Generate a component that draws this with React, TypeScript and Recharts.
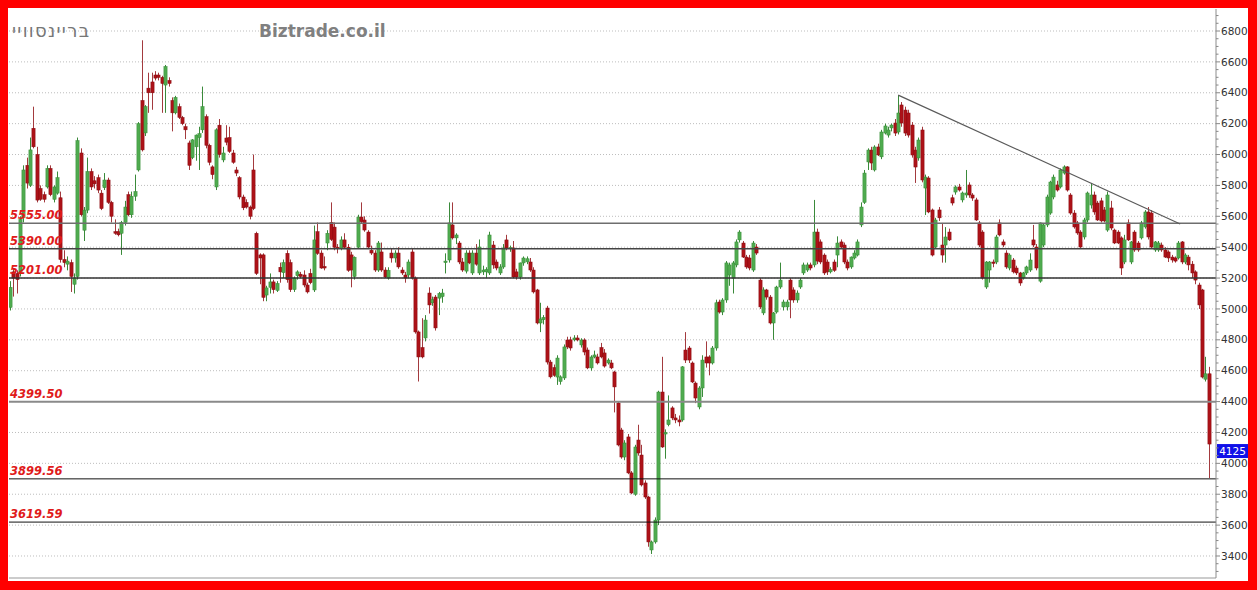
import React from 'react';
import { ComposedChart, Bar, XAxis, YAxis, ReferenceLine, CartesianGrid } from 'recharts';

type C = [number, number, number, number]; // open, high, low, close

const candlesA: C[] = [
  [5010,5180,4990,5140],[5240,5260,5080,5200],[5230,5250,5100,5190],[5230,5600,5210,5580],[5590,5930,5560,5900],
  [5930,5980,5780,5815],[5800,6110,5790,6030],[6170,6310,6040,6050],[6000,6050,5690,5705],[5780,5800,5700,5710],
  [5740,5760,5690,5710],[5790,5930,5780,5910],[5910,5930,5730,5740],[5710,5800,5690,5790],[5750,5890,5740,5850],
  [5720,5760,5300,5320],[5320,5380,5270,5300],[5290,5340,5250,5310],[5300,5320,5110,5210],[5160,5230,5100,5200],
  [5210,6110,5190,6090],[6010,6040,5600,5610],[5510,5660,5440,5640],[5640,5980,5620,5890],[5890,5910,5770,5790],
  [5830,5860,5780,5810],[5850,5870,5750,5770],[5750,5770,5640,5650],[5785,5880,5770,5835],[5835,5850,5680,5690],
  [5690,5700,5560,5600],[5500,5580,5480,5490],[5500,5520,5470,5480],[5490,5570,5350,5560],[5560,5700,5540,5660],
  [5740,5760,5600,5610],[5610,5760,5590,5730],[5730,5870,5700,5760],[5900,6210,5890,6200],[6350,6740,6020,6030],
  [6140,6320,6120,6310],[6430,6530,6270,6400],[6470,6530,6290,6400],[6515,6540,6480,6495],[6515,6530,6480,6500],
  [6500,6510,6270,6460],[6450,6580,6270,6570],[6480,6500,6440,6460],[6350,6370,6150,6270],[6270,6380,6260,6370],
  [6310,6330,6230,6240],[6240,6250,6190,6200],[6180,6200,6100,6160],[6075,6090,5900,5930],[5980,6100,5970,6095],
  [6050,6130,5960,6126],[6110,6180,5900,6135],[6160,6440,6140,6310],[6245,6260,6040,6060],[6060,6070,5930,5950],
];
const candlesB: C[] = [
  [5920,5930,5840,5870],[5790,6170,5770,6160],[6190,6230,5980,6000],[5965,6050,5950,6010],[6107,6190,6060,6080],
  [6110,6180,6010,6020],[6010,6030,5940,5950],[5900,5920,5860,5880],[5850,5860,5710,5725],[5725,5740,5640,5655],
  [5690,5710,5650,5660],[5660,5670,5580,5600],[5900,6000,5640,5650],[5490,5500,5220,5230],[5350,5360,5160,5330],
  [5350,5360,5050,5075],[5090,5150,5050,5136],[5140,5230,5100,5175],[5175,5190,5100,5125],[5120,5180,5110,5165],
  [5270,5300,5170,5240],[5235,5320,5200,5300],[5360,5380,5170,5190],[5300,5320,5110,5125],[5125,5210,5110,5200],
  [5215,5250,5190,5240],[5225,5240,5200,5210],[5220,5250,5140,5155],[5155,5170,5100,5110],[5230,5260,5160,5170],
  [5123,5540,5110,5447],[5500,5560,5350,5360],[5362,5380,5260,5265],[5275,5340,5250,5265],[5427,5510,5380,5490],
  [5560,5690,5440,5450],[5530,5560,5380,5400],[5400,5420,5360,5390],[5395,5470,5380,5447],[5447,5490,5390,5400],
  [5400,5420,5240,5250],[5350,5370,5140,5252],[5210,5340,5190,5335],[5400,5610,5390,5595],[5595,5690,5550,5565],
  [5576,5600,5500,5511],[5498,5510,5390,5401],[5380,5410,5350,5362],[5362,5380,5240,5252],[5252,5440,5240,5427],
  [5369,5430,5240,5252],[5252,5270,5200,5207],[5200,5270,5190,5250],[5362,5390,5300,5330],[5330,5380,5300,5362],
  [5362,5400,5260,5272],[5252,5270,5220,5233],[5220,5240,5170,5200],[5220,5320,5200,5304],[5369,5395,5190,5200],
];
const candlesC: C[] = [
  [5200,5210,4840,4851],[4851,4860,4530,4689],[4750,4940,4680,4689],[4812,4960,4790,4928],[5103,5140,4970,5026],
  [5040,5080,5020,5060],[5077,5090,4860,4877],[5070,5110,4960,5100],[5080,5130,5040,5103],[5300,5360,5230,5310],
  [5317,5690,5300,5557],[5544,5690,5450,5460],[5460,5490,5420,5479],[5427,5440,5290,5304],[5304,5330,5240,5252],
  [5245,5380,5230,5362],[5362,5380,5290,5298],[5233,5380,5220,5362],[5362,5420,5280,5290],[5233,5450,5220,5401],
  [5240,5280,5220,5252],[5240,5270,5200,5255],[5233,5500,5220,5479],[5414,5440,5260,5285],[5304,5320,5250,5265],
  [5233,5290,5220,5272],[5272,5420,5260,5395],[5447,5480,5380,5395],[5390,5410,5370,5398],[5395,5440,5200,5207],
  [5240,5260,5190,5207],[5207,5300,5190,5298],[5298,5340,5280,5330],[5305,5340,5290,5325],[5304,5330,5240,5252],
  [5252,5270,5100,5110],[5123,5130,4900,4909],[4909,5040,4850,4935],[4930,4960,4900,4945],[5006,5020,4640,4656],
  [4656,4670,4550,4560],[4620,4640,4560,4570],[4559,4700,4508,4682],[4530,4570,4510,4560],[4553,4770,4540,4754],
  [4799,4820,4740,4754],[4800,4820,4730,4747],[4800,4830,4790,4812],[4812,4830,4790,4799],[4767,4810,4750,4799],
  [4799,4810,4700,4721],[4734,4750,4610,4618],[4618,4700,4600,4689],[4689,4730,4680,4702],[4689,4710,4640,4650],
  [4750,4780,4680,4689],[4715,4740,4620,4630],[4650,4680,4640,4669],[4650,4670,4610,4618],[4592,4600,4330,4495],
];
const candlesD: C[] = [
  [4391,4400,4110,4119],[4216,4230,4030,4041],[4041,4150,4020,4132],[4171,4190,3930,3938],[3938,3950,3800,3808],
  [3800,4120,3790,4106],[4151,4250,4050,4067],[4054,4120,3850,3860],[3873,3890,3770,3782],[3782,3790,3460,3491],
  [3439,3500,3413,3491],[3491,3650,3480,3633],[3633,4470,3600,4462],[4462,4690,4100,4106],[4190,4220,4030,4200],
  [4250,4440,4240,4281],[4359,4370,4280,4294],[4294,4320,4260,4281],[4281,4310,4240,4268],[4281,4630,4270,4625],
  [4734,4850,4650,4669],[4747,4760,4650,4669],[4650,4660,4520,4527],[4520,4530,4390,4423],[4365,4500,4350,4488],
  [4488,4700,4430,4669],[4689,4790,4620,4650],[4689,4700,4570,4650],[4650,4760,4640,4747],[4747,5060,4730,5040],
  [5045,5060,4970,4980],[4980,5070,4960,5058],[5058,5310,5040,5298],[5220,5300,5150,5285],[5200,5310,5100,5298],
  [5285,5450,5270,5434],[5447,5510,5430,5498],[5427,5440,5330,5336],[5336,5350,5260,5272],[5330,5350,5250,5265],
  [5252,5440,5240,5427],[5401,5420,5350,5362],[5187,5200,5000,5013],[4974,5140,4960,5123],[5123,5130,5060,5077],
  [5077,5090,4900,4909],[4909,4980,4800,4974],[4980,5150,4970,5142],[5142,5300,5130,5187],[5013,5060,4990,5045],
  [5013,5060,4990,5045],[5187,5200,4940,5058],[5123,5140,5040,5058],[5058,5120,5040,5103],[5142,5200,5130,5187],
  [5233,5300,5220,5285],[5252,5300,5240,5285],[5285,5300,5250,5265],[5285,5706,5270,5498],[5498,5520,5290,5310],
];
const candlesE: C[] = [
  [5434,5450,5290,5304],[5349,5360,5220,5233],[5304,5320,5220,5240],[5240,5270,5230,5255],[5304,5320,5240,5250],
  [5349,5470,5270,5427],[5434,5450,5390,5401],[5414,5430,5290,5304],[5304,5320,5250,5265],[5272,5340,5260,5336],
  [5330,5380,5320,5362],[5349,5450,5340,5434],[5544,5690,5530,5660],[5690,5900,5680,5880],[5952,6040,5900,6029],
  [6029,6050,5900,5945],[5900,6060,5890,6049],[6049,6070,5990,5997],[5985,6160,5970,6146],[6139,6200,6130,6185],
  [6126,6180,6110,6159],[6172,6200,6150,6191],[6204,6230,6120,6139],[6146,6385,6130,6269],[6321,6340,6180,6204],
  [6288,6310,6120,6139],[6269,6290,6110,6126],[6191,6210,5980,5997],[6029,6050,5816,5919],[5978,6110,5960,6094],
  [6159,6180,5820,5835],[5783,5870,5608,5854],[5848,5860,5620,5628],[5641,5650,5340,5349],[5401,5590,5390,5576],
  [5641,5660,5570,5590],[5414,5557,5300,5349],[5414,5530,5300,5466],[5498,5520,5440,5447],[5720,5740,5670,5686],
  [5757,5800,5740,5790],[5790,5810,5760,5770],[5706,5760,5690,5751],[5738,5900,5720,5751],[5803,5820,5720,5738],
  [5738,5750,5700,5718],[5706,5720,5570,5576],[5557,5570,5400,5414],[5498,5510,5190,5200],[5142,5310,5130,5304],
  [5252,5310,5170,5304],[5304,5320,5270,5295],[5304,5480,5290,5466],[5557,5580,5470,5479],[5434,5450,5400,5414],
  [5362,5380,5260,5272],[5265,5360,5250,5349],[5317,5330,5230,5240],[5265,5280,5220,5233],[5233,5240,5150,5168],
];
const candlesF: C[] = [
  [5200,5240,5190,5233],[5233,5280,5220,5272],[5252,5360,5240,5317],[5447,5544,5400,5414],[5401,5420,5250,5265],
  [5180,5560,5170,5557],[5414,5550,5400,5544],[5544,5740,5530,5725],[5621,5830,5610,5822],[5725,5870,5710,5854],
  [5803,5830,5760,5770],[5790,5910,5780,5900],[5880,5930,5870,5920],[5920,5925,5760,5770],[5738,5750,5610,5621],
  [5621,5640,5520,5531],[5557,5570,5480,5492],[5498,5510,5390,5401],[5466,5590,5450,5576],[5576,5760,5560,5751],
  [5673,5816,5650,5738],[5738,5760,5610,5628],[5686,5700,5570,5576],[5700,5720,5560,5570],[5641,5660,5560,5570],
  [5511,5760,5500,5738],[5654,5700,5510,5524],[5511,5520,5420,5427],[5498,5510,5420,5427],[5460,5470,5220,5265],
  [5304,5480,5290,5447],[5557,5580,5440,5447],[5304,5440,5290,5434],[5498,5510,5370,5382],[5427,5440,5370,5382],
  [5460,5570,5450,5557],[5531,5640,5520,5628],[5628,5660,5450,5466],[5621,5640,5390,5401],[5382,5440,5370,5434],
  [5382,5440,5370,5427],[5414,5430,5370,5382],[5382,5400,5330,5336],[5369,5380,5304,5330],[5336,5350,5300,5317],
  [5330,5340,5300,5310],[5330,5440,5320,5427],[5434,5440,5290,5304],[5304,5360,5290,5349],[5336,5350,5250,5285],
  [5290,5310,5200,5233],[5240,5250,5160,5187],[5155,5170,5000,5026],[5123,5130,4550,4559],[4545,4690,4530,4580],
  [4580,4625,3905,4125],
];

// candle index where each month begins (vertical grid lines)
const monthStarts = [2, 20, 39.5, 59, 80, 102, 123, 139, 162, 182, 205, 227, 247, 268, 286, 305, 325, 348];
const priceTicks = [3400, 3600, 3800, 4000, 4200, 4400, 4600, 4800, 5000, 5200, 5400, 5600, 5800, 6000, 6200, 6400, 6600, 6800];
const levelValues = [5555, 5390, 5201, 4399.5, 3899.56, 3619.59];
const levelLabels = ['5555.00', '5390.00', '5201.00', '4399.50', '3899.56', '3619.59'];
const levelColors = ['#6e6e6e', '#444444', '#333333', '#8a8a8a', '#111111', '#111111'];
const levelWidths = [1.5, 1.5, 1.5, 2, 1, 1];
const lastPrice = 4125;
const trendFrom = { i: 263, v: 6385 };
const trendTo = { i: 346.5, v: 5550 };
const titleHe = 'בריינסוויי';
const siteName = 'Biztrade.co.il';

const allCandles: C[] = [...candlesA, ...candlesB, ...candlesC, ...candlesD, ...candlesE, ...candlesF];
const data = allCandles.map(([o, h, l, c], i) => ({ i, o, h, l, c, range: [l, h] }));

const minorTicks: number[] = [];
for (let v = 3300; v <= 6900; v += 50) minorTicks.push(v);

const Candle = (props: any) => {
  const { x, y, width, height, payload } = props;
  if (!payload || x == null) return null;
  const { o, h, l, c } = payload;
  const top0 = Math.min(y, y + height);
  const hh = Math.abs(height);
  const cx = Math.round(x + width / 2) + 0.5;
  const span = h - l;
  const ratio = span > 0 ? hh / span : 0;
  const yOf = (v: number) => top0 + (h - v) * ratio;
  const up = c >= o;
  const bTop = yOf(Math.max(o, c));
  const bBot = yOf(Math.min(o, c));
  const bodyH = Math.max(1.2, bBot - bTop);
  const fill = up ? '#4fab4f' : '#ad1218';
  const wick = up ? '#3a8a3a' : '#a33a3e';
  return (
    <g>
      <line x1={cx} x2={cx} y1={top0} y2={top0 + hh} stroke={wick} strokeWidth={1} />
      <rect x={cx - 1.6} y={bTop} width={3.2} height={bodyH} fill={fill} stroke={up ? '#378c37' : '#860b10'} strokeWidth={0.5} />
    </g>
  );
};

const AxisTick = (props: any) => {
  const { x, y, payload } = props;
  const v = payload.value as number;
  const major = priceTicks.includes(v);
  return (
    <g>
      <line x1={x} x2={x + (major ? 4 : 2.5)} y1={y} y2={y} stroke="#888" strokeWidth={1} />
      {major && (
        <text x={x + 5} y={y} dy="0.35em" fontSize={10.5} fontFamily="DejaVu Sans" fill="#333">
          {v}
        </text>
      )}
    </g>
  );
};

const LevelLabel = (props: any) => {
  const { viewBox, text } = props;
  if (!viewBox) return null;
  return (
    <text x={viewBox.x + 1} y={viewBox.y - 4} fontSize={11.5} fontFamily="DejaVu Sans" fontWeight="bold" fontStyle="italic" fill="#e01a1a">
      {text}
    </text>
  );
};

const PriceTag = (props: any) => {
  const { viewBox, text } = props;
  if (!viewBox) return null;
  const x0 = viewBox.x + viewBox.width + 1;
  return (
    <g>
      <rect x={x0} y={viewBox.y} width={31} height={14} fill="#1010e8" />
      <text x={x0 + 15.5} y={viewBox.y + 7} dy="0.35em" textAnchor="middle" fontSize={10.5} fontFamily="DejaVu Sans" fill="#ffffff">
        {text}
      </text>
    </g>
  );
};

export default function App() {
  return (
    <div style={{ position: 'absolute', left: 0, top: 0, width: 1257, height: 590, background: '#ff0000' }}>
      <div style={{ position: 'absolute', left: 8, top: 8, width: 1240, height: 573, background: '#ffffff' }}>
        <ComposedChart width={1240} height={573} data={data} margin={{ top: 1, right: 0, bottom: 1, left: 1 }}>
          <CartesianGrid horizontal={true} vertical={false} horizontalValues={priceTicks} stroke="#bdbdbd" strokeDasharray="1 2" />
          <CartesianGrid horizontal={false} vertical={true} verticalValues={monthStarts} stroke="#d2d2d2" />
          <XAxis
            dataKey="i"
            type="number"
            domain={[-0.3, 357.1]}
            allowDataOverflow
            tick={false}
            tickLine={false}
            height={2}
            axisLine={{ stroke: '#999999' }}
          />
          <YAxis
            orientation="right"
            type="number"
            domain={[3257.5, 6942.5]}
            allowDataOverflow
            ticks={minorTicks}
            interval={0}
            tickSize={0}
            tickMargin={0}
            tickLine={false}
            tick={<AxisTick />}
            width={32}
            axisLine={{ stroke: '#8c8c8c' }}
          />
          {levelValues.map((v, k) => (
            <ReferenceLine
              key={'lv' + k}
              y={v}
              stroke={levelColors[k]}
              strokeWidth={levelWidths[k]}
              label={<LevelLabel text={levelLabels[k]} />}
            />
          ))}
          <ReferenceLine
            segment={[{ x: trendFrom.i, y: trendFrom.v }, { x: trendTo.i, y: trendTo.v }]}
            stroke="#5a5a5a"
            strokeWidth={1.2}
          />
          <Bar dataKey="range" barSize={3} shape={<Candle />} isAnimationActive={false} />
          <ReferenceLine y={lastPrice} stroke="none" label={<PriceTag text={String(lastPrice)} />} />
        </ComposedChart>
        <div style={{ position: 'absolute', left: 4, top: 13, fontFamily: 'DejaVu Sans', fontSize: 18, letterSpacing: 1.3, color: '#777777', lineHeight: '20px', whiteSpace: 'nowrap' }}>
          {titleHe}
        </div>
        <div style={{ position: 'absolute', left: 251, top: 13, fontFamily: 'DejaVu Sans', fontWeight: 'bold', fontSize: 17, color: '#808080', lineHeight: '20px', whiteSpace: 'nowrap' }}>
          {siteName}
        </div>
      </div>
    </div>
  );
}
